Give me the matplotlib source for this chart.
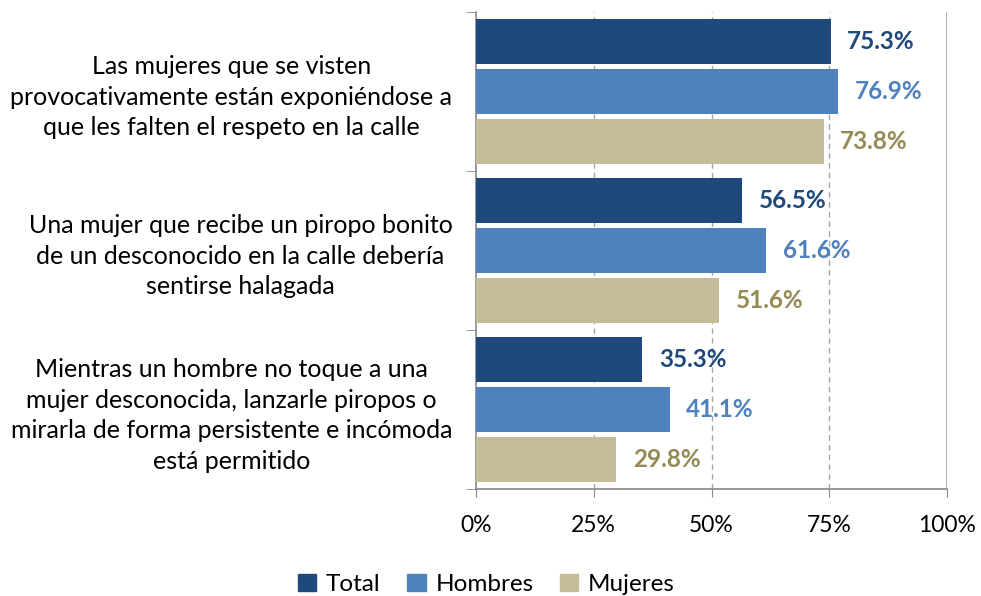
import matplotlib
matplotlib.use("Agg")
import matplotlib.pyplot as plt
from matplotlib.patches import Patch
import numpy as np

categories = [
    "Las mujeres que se visten\nprovocativamente están exponiéndose a\nque les falten el respeto en la calle",
    "Una mujer que recibe un piropo bonito\nde un desconocido en la calle debería\nsentirse halagada",
    "Mientras un hombre no toque a una\nmujer desconocida, lanzarle piropos o\nmirarla de forma persistente e incómoda\nestá permitido",
]
series_names = ["Total", "Hombres", "Mujeres"]
total = [75.3, 56.5, 35.3]
hombres = [76.9, 61.6, 41.1]
mujeres = [73.8, 51.6, 29.8]
xticks = [0, 25, 50, 75, 100]
xtick_labels = ["0%", "25%", "50%", "75%", "100%"]

bar_colors = ["#1F497D", "#4F81BD", "#C4BD97"]
label_colors = ["#1F497D", "#4F81BD", "#948A54"]

plt.rcParams['font.family'] = ['Lato', 'DejaVu Sans']

fig = plt.figure(figsize=(9.81, 5.96), dpi=100)
ax = fig.add_axes([476/981, 1-489/596, (947-476)/981, (489-12)/596])

series = [total, hombres, mujeres]
offsets = [-0.316, 0.0, 0.316]
h = 0.283
centers = np.arange(len(categories)) + 0.5
for s, vals in enumerate(series):
    ys = centers + offsets[s]
    ax.barh(ys, vals, height=h, color=bar_colors[s], zorder=3)
    for y, v in zip(ys, vals):
        ax.annotate(f"{v:.1f}%", xy=(v, y), xytext=(12, 0), textcoords="offset points",
                    ha="left", va="center", fontsize=17.5, fontweight="bold",
                    color=label_colors[s], zorder=4)

ax.set_xlim(0, 100)
ax.set_ylim(3, 0)
ax.set_xticks(xticks)
ax.set_xticklabels(xtick_labels, fontsize=16.5)
ax.tick_params(axis='x', length=6, color="#888888", pad=13)

ax.set_yticks(centers)
ax.set_yticklabels(categories, fontsize=18, linespacing=1.4)
for lbl in ax.get_yticklabels():
    lbl.set_multialignment("center")
ax.tick_params(axis='y', which='major', length=0, pad=17)
ax.set_yticks([0, 1, 2, 3], minor=True)
ax.tick_params(axis='y', which='minor', length=7, color="#888888")

for x in [25, 50, 75]:
    ax.axvline(x, color="#A6A6A6", linestyle=(0, (4, 3)), linewidth=1, zorder=1)
ax.axvline(100, color="#A6A6A6", linewidth=1.2, zorder=1)

for sp in ["top", "right"]:
    ax.spines[sp].set_visible(False)
for sp in ["left", "bottom"]:
    ax.spines[sp].set_color("#888888")
    ax.spines[sp].set_linewidth(1.2)

handles = [Patch(facecolor=c, edgecolor=c) for c in bar_colors]
fig.legend(handles, series_names, loc="lower center", bbox_to_anchor=(0.496, -0.035),
           ncol=3, frameon=False, fontsize=17.5, handlelength=0.75, handleheight=0.75,
           handletextpad=0.4, columnspacing=1.1)

fig.savefig("out.png", dpi=100)
